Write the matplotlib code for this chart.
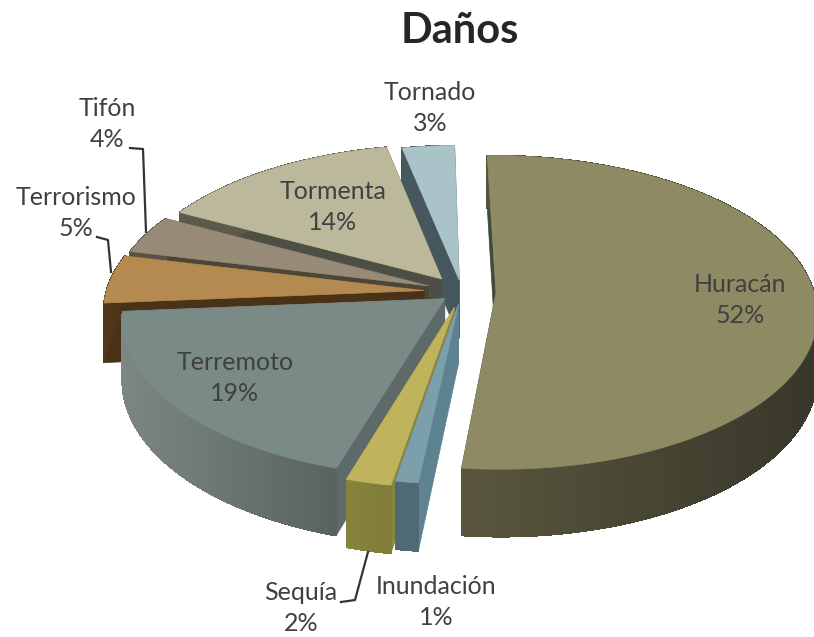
import matplotlib
matplotlib.use("Agg")
import matplotlib.pyplot as plt
from matplotlib.collections import PolyCollection
import numpy as np

plt.rcParams["font.family"] = ["Lato", "DejaVu Sans"]

LABELS = ["Huracán", "Inundación", "Sequía", "Terremoto", "Terrorismo", "Tifón", "Tormenta", "Tornado"]
VALUES = [52, 1, 2, 19, 5, 4, 14, 3]

EXPLODE = [34, 25, 32, 22, 38, 36, 34, 25]
TOP_COLORS = ["#8e8a63", "#7ba0ab", "#bfb45c", "#7a8a86", "#b58a50", "#978b78", "#bcb89c", "#a9c3c9"]
CUT_COLORS = ["#3f4a3f", "#5d8290", "#8a8540", "#5e6a6a", "#4a3218", "#4a4638", "#4d4f45", "#46585e"]
WALL_LEFT = ["#5a563e", "#4f6a72", "#87843c", "#7c8784", "#53391c", "#5a5244", "#5c5a48", "#46585e"]
WALL_RIGHT = ["#37372a", "#4f6a72", "#7f7c38", "#59625f", "#4a3218", "#5a5244", "#5c5a48", "#46585e"]

# draw order, back of the pie first
DRAW_ORDER = [7, 6, 5, 4, 0, 3, 2, 1]

LABEL_POS = [(740, 300), (436, 602), (301, 608), (235, 378), (76, 213), (107, 124), (333, 207), (430, 108)]
LEADERS = [
    [(130, 148), (143, 149), (146, 232)],
    [(97, 237), (108, 240), (111, 272)],
    [(368, 552), (355, 600), (341, 602)],
]

CX, CY = 462, 292
RADIUS = 318
TILT = 0.485
PERSP = 0.125
DEPTH = 59
START = -1.0


def project(u, v, z=0.0):
    s = 1.0 / (1.0 - PERSP * np.asarray(v) / RADIUS)
    return CX + u * s, CY + v * TILT * s + z * s


def mix(c1, c2, t):
    a = np.array(matplotlib.colors.to_rgb(c1))
    b = np.array(matplotlib.colors.to_rgb(c2))
    return tuple(a + (b - a) * t)


def draw_slice(ax, i, a0, a1):
    mid = np.radians((a0 + a1) / 2)
    du, dv = EXPLODE[i] * np.sin(mid), -EXPLODE[i] * np.cos(mid)
    th = np.radians(np.linspace(a0, a1, max(int(a1 - a0) * 2, 4)))
    u = du + RADIUS * np.sin(th)
    v = dv - RADIUS * np.cos(th)

    xt, yt = project(u, v)
    xb, yb = project(u, v, DEPTH)
    ax0, ay0 = project(du, dv)
    ax1, ay1 = project(du, dv, DEPTH)

    # the two cut faces running in to the apex
    for j in (0, -1):
        ax.fill([ax0, xt[j], xb[j], ax1], [ay0, yt[j], yb[j], ay1],
                color=CUT_COLORS[i], lw=0.5, zorder=1)

    # outer wall: flat base plus strips shaded from left to right
    ax.fill(np.r_[xt, xb[::-1]], np.r_[yt, yb[::-1]], color=mix(WALL_LEFT[i], WALL_RIGHT[i], 0.5),
            lw=0.5, zorder=1)
    quads, colors = [], []
    xmin, xmax = xt.min(), xt.max()
    for j in range(len(th) - 1):
        quads.append([(xt[j], yt[j]), (xt[j + 1], yt[j + 1]), (xb[j + 1], yb[j + 1]), (xb[j], yb[j])])
        t = (xt[j] - xmin) / max(xmax - xmin, 1)
        colors.append(mix(WALL_LEFT[i], WALL_RIGHT[i], t))
    ax.add_collection(PolyCollection(quads, facecolors=colors, edgecolors=colors, linewidths=0.5,
                                     antialiaseds=False, zorder=1))

    ax.fill(np.r_[ax0, xt], np.r_[ay0, yt], color=TOP_COLORS[i], lw=0.5, zorder=1)


def main():
    fig = plt.figure(figsize=(8.14, 6.37), dpi=100)
    ax = fig.add_axes([0, 0, 1, 1])
    ax.set_xlim(0, 814)
    ax.set_ylim(637, 0)
    ax.axis("off")

    edges = START + np.r_[0, np.cumsum(VALUES)] * 360.0 / sum(VALUES)
    for i in DRAW_ORDER:
        draw_slice(ax, i, edges[i], edges[i + 1])

    for pts in LEADERS:
        xs, ys = zip(*pts)
        ax.plot(xs, ys, color="#333333", lw=1.6, zorder=2)

    for name, val, (x, y) in zip(LABELS, VALUES, LABEL_POS):
        ax.text(x, y, f"{name}\n{val}%", ha="center", va="center", fontsize=18,
                color="#404040", linespacing=1.4, zorder=3)

    ax.text(460, 31, "Daños", ha="center", va="center", fontsize=30,
            fontweight="bold", color="#262626", zorder=3)

    fig.savefig("out.png", dpi=100)


if __name__ == "__main__":
    main()
